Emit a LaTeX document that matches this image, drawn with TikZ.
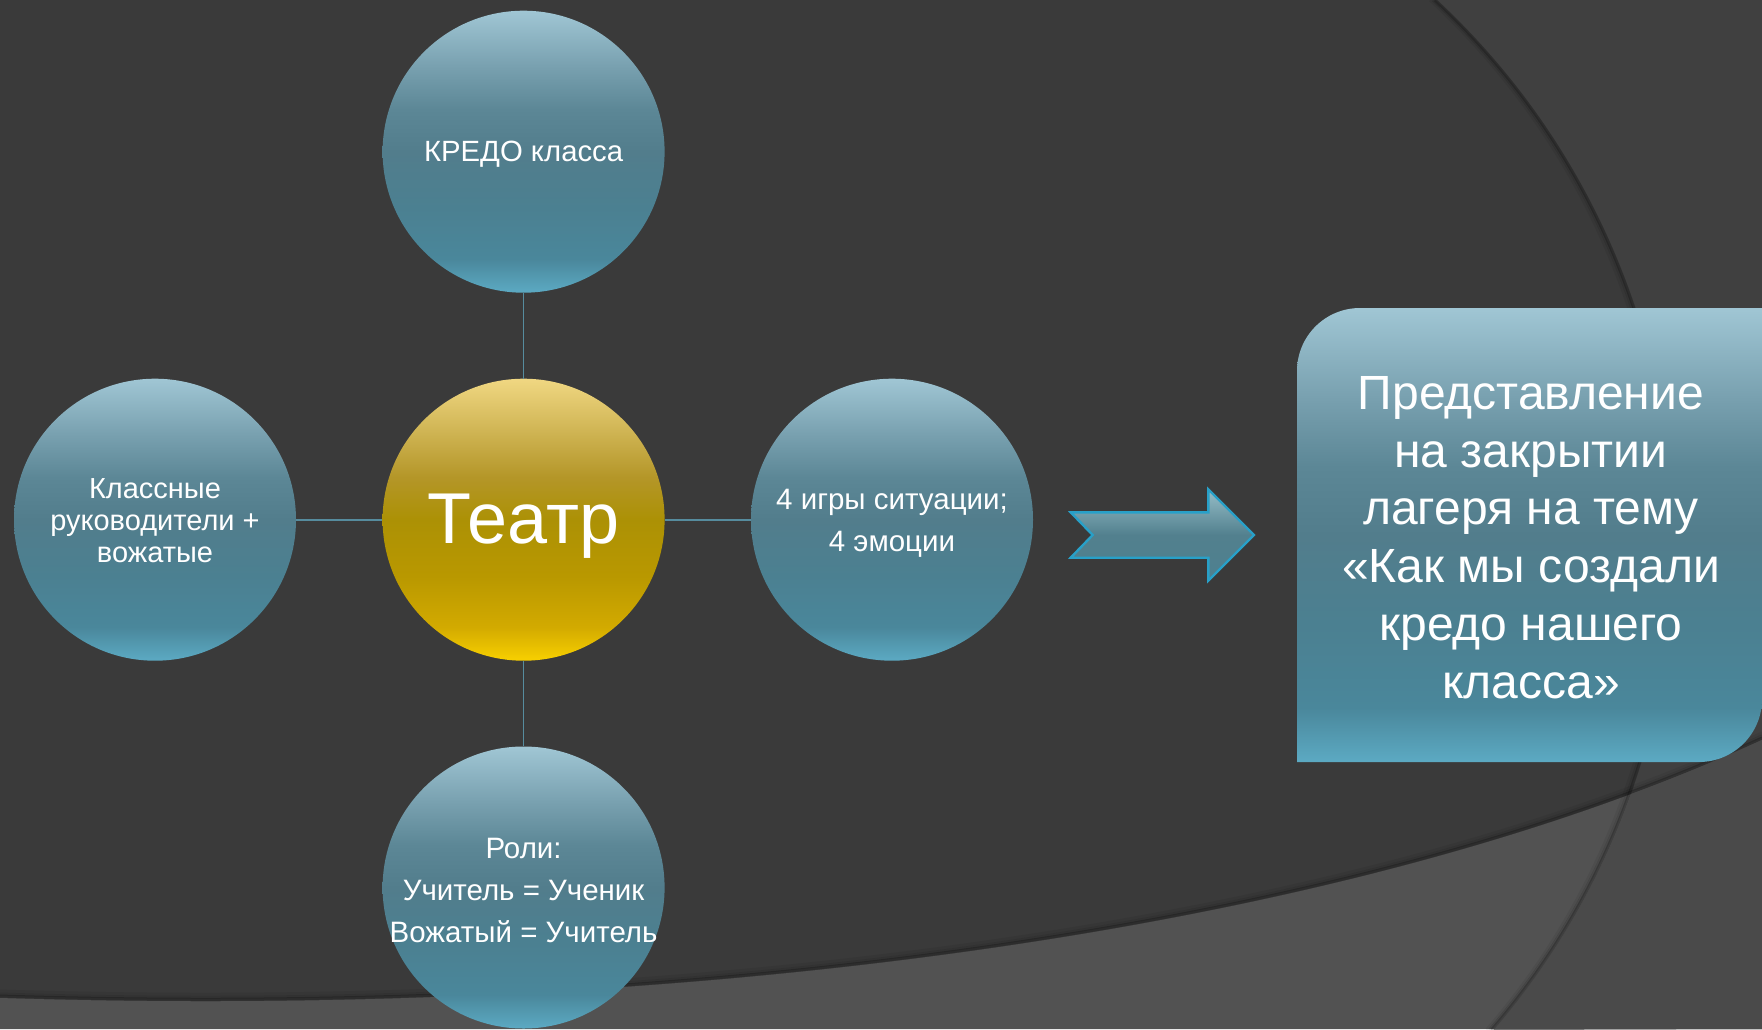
\documentclass[tikz,border=0pt]{standalone}
\usepackage{fontspec}
\setmainfont{Liberation Sans}
\usetikzlibrary{calc}

\definecolor{bgmain}{RGB}{58,58,58}
\definecolor{bgright}{RGB}{64,64,64}
\definecolor{bgbottom}{RGB}{82,82,82}
\definecolor{bgbr}{RGB}{74,74,74}
\definecolor{connc}{RGB}{86,140,158}
\definecolor{arrowedge}{RGB}{40,160,200}

\definecolor{tl0}{RGB}{92,170,195}
\definecolor{tl1}{RGB}{74,135,155}
\definecolor{tl2}{RGB}{75,128,145}
\definecolor{tl3}{RGB}{82,125,140}
\definecolor{tl4}{RGB}{92,135,150}
\definecolor{tl5}{RGB}{120,160,175}
\definecolor{tl6}{RGB}{160,198,212}

\definecolor{gd0}{RGB}{248,208,0}
\definecolor{gd1}{RGB}{210,170,0}
\definecolor{gd2}{RGB}{185,152,0}
\definecolor{gd3}{RGB}{172,145,5}
\definecolor{gd4}{RGB}{180,150,40}
\definecolor{gd5}{RGB}{205,178,80}
\definecolor{gd6}{RGB}{240,215,130}

\definecolor{ar0}{RGB}{78,128,143}
\definecolor{ar1}{RGB}{82,128,142}
\definecolor{ar2}{RGB}{150,190,200}

\pgfdeclareverticalshading{tealshade}{100bp}{color(0bp)=(tl0); color(25bp)=(tl0); color(31bp)=(tl1); color(40bp)=(tl2); color(50bp)=(tl3); color(57.5bp)=(tl4); color(65bp)=(tl5); color(75bp)=(tl6); color(100bp)=(tl6)}
\pgfdeclareverticalshading{goldshade}{100bp}{color(0bp)=(gd0); color(25bp)=(gd0); color(31bp)=(gd1); color(40bp)=(gd2); color(50bp)=(gd3); color(57.5bp)=(gd4); color(65bp)=(gd5); color(75bp)=(gd6); color(100bp)=(gd6)}
\pgfdeclareverticalshading{arrowshade}{100bp}{color(0bp)=(ar0); color(25bp)=(ar0); color(50bp)=(ar1); color(75bp)=(ar2); color(100bp)=(ar2)}

\begin{document}
\begin{tikzpicture}[x=1pt,y=-1pt,
  tealball/.style={circle, minimum size=282pt, inner sep=0pt, shade, shading=tealshade},
  goldball/.style={circle, minimum size=282pt, inner sep=0pt, shade, shading=goldshade},
  conn/.style={draw=connc, line width=1.6pt},
  txt/.style={text=white, inner sep=0pt}]
\useasboundingbox (0,0) rectangle (1762,1029);

% background
\fill[bgmain] (0,0) rectangle (1762,1029);
\fill[bgright] (1437,0) arc[start angle=-47.1, end angle=40.8, radius=743] -- (1762,1029) -- (1762,0) -- cycle;
\fill[bgbottom] (0,998) .. controls (700,1020) and (1350,930) .. (1762,740) -- (1762,1029) -- (0,1029) -- cycle;
\begin{scope}
  \clip (1437,0) arc[start angle=-47.1, end angle=40.8, radius=743] -- (1762,1029) -- (1762,0) -- cycle;
  \fill[bgbr] (0,998) .. controls (700,1020) and (1350,930) .. (1762,740) -- (1762,1029) -- (0,1029) -- cycle;
\end{scope}
% soft shadows
\foreach \s/\o in {2/0.22,4/0.12,7/0.06}{
  \draw[black, opacity=\o, line width=3pt, xshift=-\s pt] (1437,0) arc[start angle=-47.1, end angle=40.8, radius=743];
  \draw[black, opacity=\o, line width=3pt, yshift=\s pt] (0,998) .. controls (700,1020) and (1350,930) .. (1762,740);
}

% circles
\node[tealball] (T) at (523.6,151.7) {};
\node[goldball] (C) at (523.6,519.7) {};
\node[tealball] (L) at (155,519.7) {};
\node[tealball] (R) at (892,519.7) {};
\node[tealball] (B) at (523.6,887.5) {};

% connectors
\draw[conn] (T) -- (C);
\draw[conn] (L) -- (C);
\draw[conn] (C) -- (R);
\draw[conn] (C) -- (B);

% texts
\node[txt, font=\fontsize{29.3}{36}\selectfont, anchor=base] (tT) at (523.6,161.7) {КРЕДО класса};
\node[txt, font=\fontsize{72}{80}\selectfont, anchor=base] (tC) at (523.6,543.3) {Театр};
\node[txt, align=center, font=\fontsize{29}{32}\selectfont] (tL) at (155,520.4) {Классные\\руководители +\\вожатые};
\node[txt, align=center, font=\fontsize{29.5}{41.7}\selectfont] (tR) at (892,523.5) {4 игры ситуации;\\4 эмоции};
\node[txt, align=center, font=\fontsize{29.5}{42.2}\selectfont] (tB) at (523.6,890.2) {Роли:\\Учитель = Ученик\\Вожатый = Учитель};

% block arrow
\shade[shading=arrowshade, draw=arrowedge, line width=2.4pt, line join=miter]
  (1070.7,512.3) -- (1208.3,512.3) -- (1208.3,489.3) -- (1254,535) -- (1208.3,580.7)
  -- (1208.3,557.7) -- (1070.7,557.7) -- (1092.7,535) -- cycle;

% result box
\shade[shading=tealshade] (1297,762) -- (1297,371) arc[start angle=180, end angle=270, radius=63]
  -- (1762,308) -- (1762,699) arc[start angle=0, end angle=90, radius=63] -- cycle;
\node[txt, align=center, font=\fontsize{48}{57.8}\selectfont] (tX) at (1531,537.5)
  {Представление\\на закрытии\\лагеря на тему\\«Как мы создали\\кредо нашего\\класса»};
\end{tikzpicture}
\end{document}
